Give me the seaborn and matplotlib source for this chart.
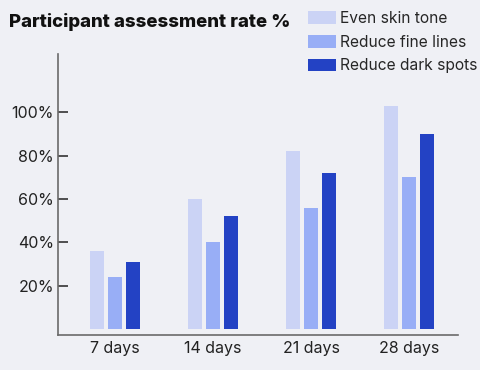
import matplotlib
matplotlib.use("Agg")
import matplotlib.pyplot as plt
import seaborn as sns
import pandas as pd

days = ["7 days", "14 days", "21 days", "28 days"]
even_skin_tone = [36, 60, 82, 103]
reduce_fine_lines = [24, 40, 56, 70]
reduce_dark_spots = [31, 52, 72, 90]
series_names = ["Even skin tone", "Reduce fine lines", "Reduce dark spots"]
y_ticks = [20, 40, 60, 80, 100]
y_tick_labels = ["20%", "40%", "60%", "80%", "100%"]

colors = ["#cbd3f5", "#98aef6", "#2342c4"]
bg = "#eff0f5"

df = pd.DataFrame({
    "day": days * 3,
    "series": [s for s in series_names for _ in days],
    "value": even_skin_tone + reduce_fine_lines + reduce_dark_spots,
})

sns.set_theme(style="white")
plt.rcParams["font.family"] = ["Inter", "DejaVu Sans"]

fig = plt.figure(figsize=(4.8, 3.7), dpi=100, facecolor=bg)
ax = fig.add_axes([58 / 480, 1 - 335 / 370, 400 / 480, 281 / 370])
ax.set_facecolor(bg)

sns.barplot(data=df, x="day", y="value", hue="series", order=days,
            hue_order=series_names, palette=colors, width=0.55, gap=0.2,
            saturation=1, linewidth=0, ax=ax, legend=True)

ax.set_xlim(-0.58, 3.5)
ax.set_ylim(-2.7, 127)
ax.set_yticks(y_ticks)
ax.set_yticklabels(y_tick_labels, fontsize=11.5, color="#222222")
ax.tick_params(axis="y", direction="in", length=7, width=1.2, color="#333333", pad=3, left=True)
ax.tick_params(axis="x", length=0, labelsize=11.5, labelcolor="#222222", pad=4)
ax.set_xlabel("")
ax.set_ylabel("")

for side in ["top", "right"]:
    ax.spines[side].set_visible(False)
for side in ["left", "bottom"]:
    ax.spines[side].set_color("#6a6a6a")
    ax.spines[side].set_linewidth(1.2)

handles, labels = ax.get_legend_handles_labels()
ax.legend_.remove()
fig.legend(handles, labels, loc="upper left", bbox_to_anchor=(302 / 480, 1 - 5 / 370),
           frameon=False, fontsize=11.2, handlelength=1.8, handleheight=0.9,
           handletextpad=0.25, labelspacing=0.55, borderaxespad=0)

fig.text(9 / 480, 1 - 22 / 370, "Participant assessment rate %", fontsize=13.4,
         fontweight="heavy", va="center", ha="left", color="#111111")

fig.savefig("out.png", dpi=100, facecolor=bg)
